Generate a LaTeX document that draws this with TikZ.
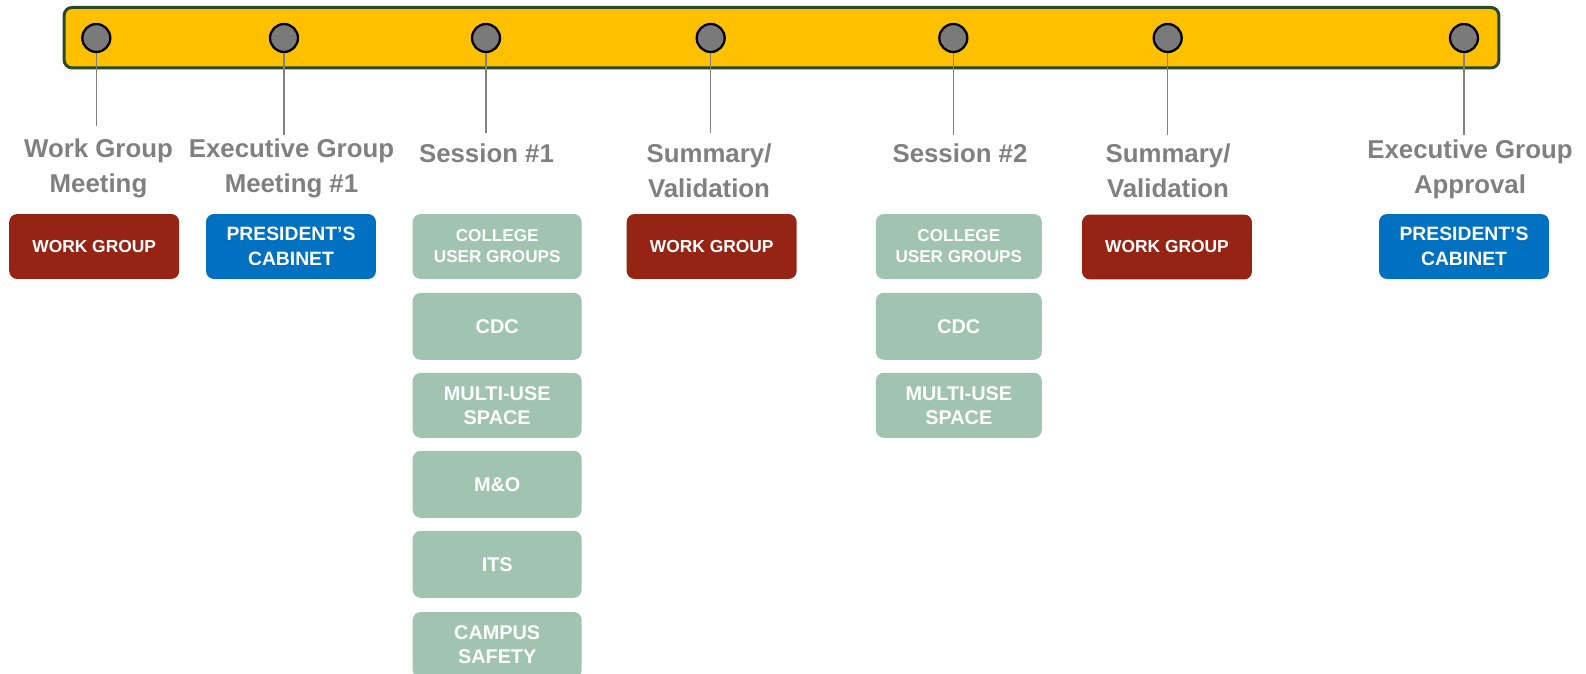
\documentclass[tikz,border=0pt]{standalone}
\usepackage{fontspec}
\setmainfont{Liberation Sans}
\definecolor{gold}{HTML}{FFC000}
\definecolor{barline}{RGB}{40,72,42}
\definecolor{dotgray}{HTML}{7A7A7A}
\definecolor{labgray}{HTML}{808080}
\definecolor{wgred}{RGB}{150,36,21}
\definecolor{pcblue}{HTML}{0070C0}
\definecolor{sgreen}{RGB}{160,196,175}
\begin{document}
\begin{tikzpicture}[x=0.02cm,y=-0.02cm,
  bar/.style={draw=barline,fill=gold,line width=1.7pt,rounded corners=0.16cm,minimum width=28.7cm,minimum height=1.21cm,inner sep=0},
  dot/.style={circle,draw=black,fill=dotgray,line width=1.3pt,minimum size=0.56cm,inner sep=0},
  conn/.style={draw=labgray,line width=0.85pt},
  lab/.style={text=labgray,font=\fontsize{14.7}{19.8}\selectfont\bfseries,align=center,inner sep=0,anchor=base},
  box/.style={rounded corners=0.16cm,text=white,align=center,inner sep=0,minimum width=3.4cm,minimum height=1.3cm},
  wg/.style={box,fill=wgred,font=\fontsize{9.9}{12}\selectfont\bfseries},
  pc/.style={box,fill=pcblue,font=\fontsize{11}{14.2}\selectfont\bfseries},
  sg/.style={box,fill=sgreen,font=\fontsize{11.3}{13.6}\selectfont\bfseries,minimum height=1.34cm},
  sgs/.style={sg,font=\fontsize{9.75}{12}\selectfont\bfseries,minimum height=1.3cm}
]
\useasboundingbox (0,0) rectangle (1586,673);
\clip (0,0) rectangle (1586,673);

\node[bar] (bar) at (781.5,37.7) {};

\node[dot] (d1) at (96.3,38) {};
\node[dot] (d2) at (284,38) {};
\node[dot] (d3) at (486,38) {};
\node[dot] (d4) at (710.7,38) {};
\node[dot] (d5) at (953.3,38) {};
\node[dot] (d6) at (1167.7,38) {};
\node[dot] (d7) at (1464,38) {};

\coordinate (e1) at (96.3,126);
\coordinate (e2) at (284,135);
\coordinate (e3) at (486,133);
\coordinate (e4) at (710.7,133);
\coordinate (e5) at (953.3,135);
\coordinate (e6) at (1167.7,135);
\coordinate (e7) at (1464,135);
\foreach \i in {1,...,7} { \draw[conn] (d\i) -- (e\i); }

\node[lab] (l1) at (98.5,192) {Work Group\\Meeting};
\node[lab] (l2) at (291.5,192) {Executive Group\\Meeting \#1};
\node[lab] (l3) at (486.5,162) {Session \#1};
\node[lab] (l4) at (709,197) {Summary/\\Validation};
\node[lab] (l5) at (960,162) {Session \#2};
\node[lab] (l6) at (1168,197) {Summary/\\Validation};
\node[lab] (l7) at (1470,193) {Executive Group\\Approval};

\node[wg] (wg1) at (94.2,246.5) {WORK GROUP};
\node[pc] (pc1) at (291,246.5) {PRESIDENT’S\\CABINET};

\node[sgs,minimum width=3.38cm] (cug1) at (497.2,246.5) {COLLEGE\\USER GROUPS};
\node[sg,minimum width=3.38cm] (cdc1) at (497.2,326.3) {CDC};
\node[sg,minimum width=3.38cm,minimum height=1.3cm] (mus1) at (497.2,405.3) {MULTI-USE\\SPACE};
\node[sg,minimum width=3.38cm] (mo1) at (497.2,484.3) {M\&O};
\node[sg,minimum width=3.38cm] (its1) at (497.2,564.3) {ITS};
\node[sg,minimum width=3.38cm,minimum height=1.32cm] (cs1) at (497.2,645) {CAMPUS\\SAFETY};

\node[wg] (wg2) at (711.7,246.5) {WORK GROUP};

\node[sgs,minimum width=3.32cm] (cug2) at (958.8,246.5) {COLLEGE\\USER GROUPS};
\node[sg,minimum width=3.32cm] (cdc2) at (958.8,326.3) {CDC};
\node[sg,minimum width=3.32cm,minimum height=1.3cm] (mus2) at (958.8,405.3) {MULTI-USE\\SPACE};

\node[wg] (wg3) at (1167,247) {WORK GROUP};
\node[pc] (pc2) at (1464,246.5) {PRESIDENT’S\\CABINET};
\end{tikzpicture}
\end{document}
